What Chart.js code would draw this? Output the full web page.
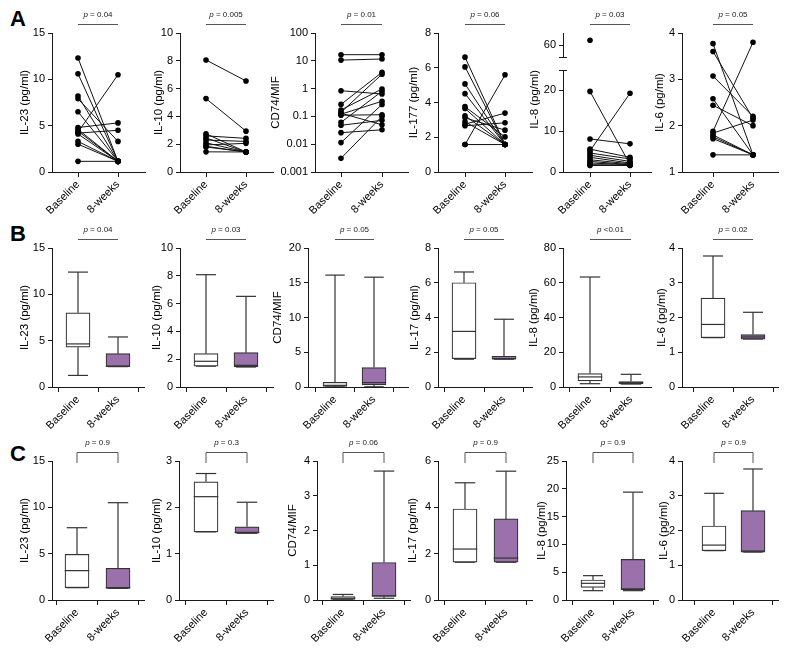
<!DOCTYPE html>
<html>
<head>
<meta charset="utf-8">
<script src="https://cdn.jsdelivr.net/npm/chart.js@4.4.1/dist/chart.umd.min.js"></script>
<style>
  body { margin:0; width:787px; height:650px; background:#fff; position:relative; overflow:hidden; font-family:"Liberation Sans", Arial, sans-serif; }
  .panel { position:absolute; }
  .letter { position:absolute; left:10px; font-size:22px; font-weight:bold; line-height:1; color:#000; }
</style>
</head>
<body>
<div class="letter" style="top:8px">A</div>
<div class="letter" style="top:223px">B</div>
<div class="letter" style="top:443px">C</div>
<script>
// =====================================================
// DATA
// =====================================================

const groups = ["Baseline", "8-weeks"];

// row A : one value per subject, baseline and 8-weeks
const il23Base  = [12.3, 10.6, 8.2, 7.9, 6.5, 4.8, 4.6, 4.4, 4.3, 4.2, 4.1, 3.3, 3.0, 1.15];
const il23Wk8   = [1.15, 1.15, 1.15, 3.3, 1.15, 5.3, 1.15, 1.15, 10.5, 4.5, 1.15, 1.15, 1.15, 1.15];
const il10Base  = [8.06, 5.28, 2.75, 2.6, 2.45, 2.3, 2.1, 1.95, 1.85, 1.8, 1.45];
const il10Wk8   = [6.55, 2.94, 1.44, 2.42, 1.44, 2.2, 1.44, 2.06, 1.44, 1.44, 1.44];
const cd74Base  = [16.6, 10.6, 0.84, 0.27, 0.17, 0.13, 0.12, 0.11, 0.061, 0.048, 0.026, 0.0114, 0.0031, 0.14];
const cd74Wk8   = [16.6, 11.6, 0.64, 3.86, 0.97, 0.05, 0.35, 0.115, 0.80, 0.072, 0.033, 0.27, 0.10, 3.3];
const il177Base = [6.61, 6.05, 5.07, 4.51, 3.76, 3.66, 3.24, 3.12, 2.89, 2.75, 2.66, 1.58, 1.58];
const il177Wk8  = [1.58, 1.58, 1.58, 1.58, 2.02, 1.58, 1.58, 2.41, 1.58, 3.39, 2.83, 5.59, 1.58];
const il8Base   = [19.75, 8.1, 5.6, 5.2, 4.65, 4.1, 3.6, 3.0, 2.6, 2.2, 1.8, 1.6];
const il8Wk8    = [1.8, 6.9, 3.6, 19.3, 3.2, 2.6, 2.2, 2.0, 1.8, 1.8, 1.7, 1.6];
const il8BaseHigh = [62];   // above the axis break
const il6Base   = [3.77, 3.6, 3.07, 2.58, 2.44, 1.88, 1.84, 1.8, 1.76, 1.72, 1.37];
const il6Wk8    = [1.37, 2.16, 2.2, 1.37, 2.0, 3.8, 2.12, 1.37, 1.37, 1.37, 1.37];

// rows B and C : [min, q1, median, q3, max] for baseline and 8-weeks
const boxB_il23 = [[1.25, 4.3, 4.65, 8.0, 12.4], [2.2, 2.2, 2.25, 3.6, 5.4]];
const boxB_il10 = [[1.5, 1.5, 1.85, 2.4, 8.08], [1.44, 1.44, 1.56, 2.47, 6.52]];
const boxB_cd74 = [[0.003, 0.1, 0.24, 0.67, 16.1], [0.03, 0.3, 0.63, 2.8, 15.8]];
const boxB_il17 = [[1.6, 1.63, 3.2, 6.0, 6.62], [1.6, 1.6, 1.63, 1.77, 3.9]];
const boxB_il8  = [[1.9, 3.5, 5.8, 7.7, 63.3], [1.7, 1.9, 2.5, 3.1, 7.3]];
const boxB_il6  = [[1.42, 1.42, 1.80, 2.56, 3.77], [1.38, 1.38, 1.44, 1.51, 2.15]];

const boxC_il23 = [[1.33, 1.33, 3.17, 4.93, 7.8], [1.26, 1.26, 1.33, 3.42, 10.5]];
const boxC_il10 = [[1.47, 1.47, 2.23, 2.55, 2.73], [1.44, 1.44, 1.46, 1.58, 2.11]];
const boxC_cd74 = [[0.005, 0.02, 0.05, 0.1, 0.16], [0.05, 0.1, 0.12, 1.08, 3.71]];
const boxC_il17 = [[1.63, 1.63, 2.2, 3.93, 5.06], [1.63, 1.63, 1.81, 3.5, 5.56]];
const boxC_il8  = [[1.68, 2.28, 3.0, 3.6, 4.38], [1.68, 1.8, 2.0, 7.3, 19.4]];
const boxC_il6  = [[1.42, 1.42, 1.58, 2.13, 3.07], [1.38, 1.38, 1.41, 2.57, 3.77]];

const titlesA  = ["IL-23 (pg/ml)", "IL-10 (pg/ml)", "CD74/MIF", "IL-177 (pg/ml)", "IL-8 (pg/ml)", "IL-6 (pg/ml)"];
const titlesBC = ["IL-23 (pg/ml)", "IL-10 (pg/ml)", "CD74/MIF", "IL-17 (pg/ml)", "IL-8 (pg/ml)", "IL-6 (pg/ml)"];

const pA = ["= 0.04", "= 0.005", "= 0.01", "= 0.06", "= 0.03", "= 0.05"];
const pB = ["= 0.04", "= 0.03", "= 0.05", "= 0.05", "<0.01", "= 0.02"];
const pC = ["= 0.9", "= 0.3", "= 0.06", "= 0.9", "= 0.9", "= 0.9"];

const ticksA = [[0, 5, 10, 15], [0, 2, 4, 6, 8, 10], [0.001, 0.01, 0.1, 1, 10, 100], [0, 2, 4, 6, 8], [0, 10, 20], [1, 2, 3, 4]];
const rangeA = [[0, 15], [0, 10], [0.001, 100], [0, 8], [0, 25], [1, 4]];
const il8HighTicks = [60];
const il8HighRange = [55, 65];
const ticksB = [[0, 5, 10, 15], [0, 2, 4, 6, 8, 10], [0, 5, 10, 15, 20], [0, 2, 4, 6, 8], [0, 20, 40, 60, 80], [0, 1, 2, 3, 4]];
const ticksC = [[0, 5, 10, 15], [0, 1, 2, 3], [0, 1, 2, 3, 4], [0, 2, 4, 6], [0, 5, 10, 15, 20, 25], [0, 1, 2, 3, 4]];

// =====================================================
// LAYOUT  [y axis x, baseline x, 8-weeks x, x axis end, y title x]
// =====================================================

const colsA = [[52, 78, 118, 145, 25], [180, 206, 246, 273, 159], [315, 341, 382, 408, 276],
               [438, 465, 505, 532, 414], [563, 590, 630, 651, 535], [682, 713, 753, 778, 660]];
const colsB = [[52, 78, 118, 144, 25], [180, 206, 246, 273, 157], [308, 335, 374, 408, 278],
               [438, 464, 504, 532, 415], [563, 590, 631, 651, 534], [682, 713, 753, 778, 662]];
const colsC = [[52, 77, 118, 144, 25], [179, 206, 247, 273, 157], [317, 343, 384, 410, 293],
               [438, 465, 506, 532, 413], [566, 593, 633, 658, 542], [682, 714, 753, 778, 664]];
const rowsY = [[33, 172], [248, 387], [461, 600]];

const FONT = '"Liberation Sans", Arial, sans-serif';
const AXIS = "#1a1a1a";
const BOXLINE = "#333";
const PURPLE = "#9a71ab";

// =====================================================
// PLUGINS
// =====================================================

const pValuePlugin = {
  id: "pval",
  afterDraw(chart, args, o) {
    const ctx = chart.ctx;
    const top = chart.chartArea.top;
    const xs = chart.scales.x;
    const x0 = xs.getPixelForValue(0), x1 = xs.getPixelForValue(1);
    const yl = Math.round(top - 9) + 0.5;

    ctx.save();
    ctx.strokeStyle = "#555";
    ctx.lineWidth = 1;
    ctx.beginPath();
    if (o.bracket) {
      ctx.moveTo(x0, top + 2);
      ctx.lineTo(x0, yl);
      ctx.lineTo(x1, yl);
      ctx.lineTo(x1, top + 2);
    } else {
      ctx.moveTo(x0, yl);
      ctx.lineTo(x1, yl);
    }
    ctx.stroke();

    // "p" in italic, the rest upright
    ctx.fillStyle = "#222";
    ctx.textBaseline = "middle";
    ctx.font = "italic 8px " + FONT;
    const wp = ctx.measureText("p ").width;
    ctx.font = "8px " + FONT;
    const wr = ctx.measureText(o.text).width;
    let x = (x0 + x1) / 2 - (wp + wr) / 2;
    const y = top - 18;
    ctx.font = "italic 8px " + FONT;
    ctx.fillText("p ", x, y);
    ctx.font = "8px " + FONT;
    ctx.fillText(o.text, x + wp, y);
    ctx.restore();
  }
};

const breakPlugin = {
  id: "axisBreak",
  afterDraw(chart) {
    const lo = chart.scales.y, hi = chart.scales.yUp;
    if (!hi) return;
    const ctx = chart.ctx;
    const x = lo.right;
    ctx.save();
    ctx.strokeStyle = AXIS;
    ctx.lineWidth = 1;
    ctx.beginPath();
    [hi.bottom, lo.top].forEach(y => {
      ctx.moveTo(x - 4, Math.round(y) + 0.5);
      ctx.lineTo(x + 4, Math.round(y) + 0.5);
    });
    ctx.stroke();
    ctx.restore();
  }
};

// =====================================================
// HELPERS
// =====================================================

function seg(points, order) {
  return {
    data: points.map(p => ({ x: p[0], y: p[1] })),
    showLine: true, borderColor: BOXLINE, borderWidth: 1.2,
    pointRadius: 0, order: order
  };
}

function pairedSets(base, wk8) {
  return base.map((b, i) => ({
    data: [{ x: 0, y: b }, { x: 1, y: wk8[i] }],
    showLine: true, borderColor: "#111", borderWidth: 1,
    pointRadius: 2.8, pointBackgroundColor: "#000", pointBorderWidth: 0
  }));
}

function boxSets(stats) {
  const sets = [{
    type: "bar",
    data: stats.map((s, i) => ({ x: i, y: [s[1], s[3]] })),
    backgroundColor: ["#fff", PURPLE],
    borderColor: BOXLINE, borderWidth: 1.2, borderSkipped: false,
    barThickness: 24, order: 2
  }];
  stats.forEach((s, i) => {
    sets.push(seg([[i, s[3]], [i, s[4]]], 3));
    sets.push(seg([[i - 0.25, s[4]], [i + 0.25, s[4]]], 3));
    sets.push(seg([[i, s[1]], [i, s[0]]], 3));
    sets.push(seg([[i - 0.25, s[0]], [i + 0.25, s[0]]], 3));
    sets.push(seg([[i - 0.3, s[2]], [i + 0.3, s[2]]], 1));
  });
  return sets;
}

function yScale(type, range, ticks, title, width) {
  return {
    type: type, position: "left", min: range[0], max: range[1],
    afterBuildTicks: s => { s.ticks = ticks.map(v => ({ value: v })); },
    afterFit: s => { s.width = width; },
    ticks: { font: { family: FONT, size: 11 }, color: "#000", padding: 3, callback: v => String(v) },
    grid: { drawOnChartArea: false, drawTicks: true, tickLength: 4, color: AXIS },
    border: { color: AXIS, width: 1 },
    title: { display: !!title, text: title, font: { family: FONT, size: 11.5 }, color: "#000", padding: 0 }
  };
}

// =====================================================
// PANEL
// =====================================================

function makePanel(lay, row, datasets, yScales, pText, bracket) {
  const [ax, c0, c1, xe, tx] = lay;
  const [top, bottom] = rowsY[row];
  const left = Math.round(tx - 6.6);
  const canvasTop = top - 36;
  const w = xe - left + 4;
  const h = bottom - canvasTop + 55;

  const div = document.createElement("div");
  div.className = "panel";
  div.style.left = left + "px";
  div.style.top = canvasTop + "px";
  div.style.width = w + "px";
  div.style.height = h + "px";
  const cv = document.createElement("canvas");
  div.appendChild(cv);
  document.body.appendChild(div);

  const unit = c1 - c0;
  const scales = {
    x: {
      type: "linear", offset: false,
      min: -(c0 - ax) / unit, max: (xe - c0) / unit,
      afterBuildTicks: s => { s.ticks = [{ value: 0 }, { value: 1 }]; },
      afterFit: s => { s.height = 55; },
      ticks: {
        font: { family: FONT, size: 11 }, color: "#000", padding: 1,
        minRotation: 45, maxRotation: 45, autoSkip: false,
        callback: v => groups[v]
      },
      grid: { drawOnChartArea: false, drawTicks: true, tickLength: 5, color: AXIS },
      border: { color: AXIS, width: 1 }
    }
  };
  const yW = ax - left;
  Object.keys(yScales).forEach(k => {
    scales[k] = yScales[k];
    scales[k].afterFit = s => { s.width = yW; };
  });

  new Chart(cv, {
    type: "scatter",
    data: { datasets: datasets },
    options: {
      responsive: true, maintainAspectRatio: false, animation: false, events: [],
      layout: { padding: { top: 36, left: 0, right: 4, bottom: 0 } },
      plugins: { legend: { display: false }, tooltip: { enabled: false }, pval: { text: pText, bracket: bracket } },
      scales: scales
    },
    plugins: [pValuePlugin, breakPlugin]
  });
}

// =====================================================
// BUILD
// =====================================================

const pairedA = [[il23Base, il23Wk8], [il10Base, il10Wk8], [cd74Base, cd74Wk8],
                 [il177Base, il177Wk8], [il8Base, il8Wk8], [il6Base, il6Wk8]];
const boxesB = [boxB_il23, boxB_il10, boxB_cd74, boxB_il17, boxB_il8, boxB_il6];
const boxesC = [boxC_il23, boxC_il10, boxC_cd74, boxC_il17, boxC_il8, boxC_il6];

pairedA.forEach((pair, i) => {
  const type = i === 2 ? "logarithmic" : "linear";
  const sets = pairedSets(pair[0], pair[1]);
  const ys = { y: yScale(type, rangeA[i], ticksA[i], titlesA[i], 0) };
  if (i === 4) {
    // broken axis : lower part, gap, upper part stacked on the left
    ys.y.stack = "il8"; ys.y.stackWeight = 102; ys.y.weight = 0;
    ys.y.title.align = "end";
    ys.yGap = {
      type: "linear", position: "left", stack: "il8", stackWeight: 13, weight: 1,
      grid: { display: false, drawTicks: false }, border: { display: false }, ticks: { display: false }
    };
    ys.yUp = yScale("linear", il8HighRange, il8HighTicks, "", 0);
    ys.yUp.stack = "il8"; ys.yUp.stackWeight = 24; ys.yUp.weight = 2;
    sets.push({
      data: il8BaseHigh.map(v => ({ x: 0, y: v })), yAxisID: "yUp",
      pointRadius: 2.8, pointBackgroundColor: "#000", pointBorderWidth: 0
    });
  }
  makePanel(colsA[i], 0, sets, ys, pA[i], false);
});

boxesB.forEach((stats, i) => {
  const t = ticksB[i];
  makePanel(colsB[i], 1, boxSets(stats),
    { y: yScale("linear", [t[0], t[t.length - 1]], t, titlesBC[i], 0) }, pB[i], false);
});

boxesC.forEach((stats, i) => {
  const t = ticksC[i];
  makePanel(colsC[i], 2, boxSets(stats),
    { y: yScale("linear", [t[0], t[t.length - 1]], t, titlesBC[i], 0) }, pC[i], true);
});
</script>
</body>
</html>
